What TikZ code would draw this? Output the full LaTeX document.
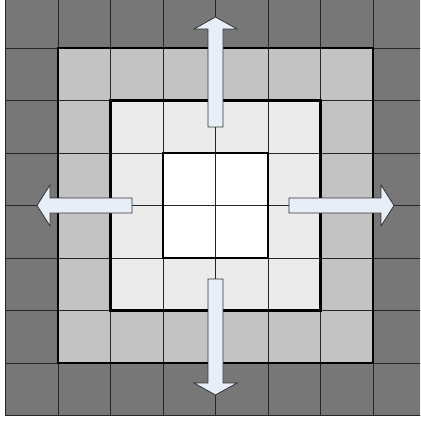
\documentclass[tikz,border=0pt]{standalone}
\usetikzlibrary{calc}
\definecolor{ring0}{HTML}{777777}
\definecolor{ring1}{HTML}{C3C3C3}
\definecolor{ring2}{HTML}{EBEBEB}
\definecolor{ring3}{HTML}{FFFFFF}
\definecolor{arrowfill}{HTML}{E8EEF8}
\tikzset{
  gridline/.style={line width=0.8pt, draw=black!85},
  thickline/.style={line width=2.6pt, draw=black},
  bigarrow/.style={fill=arrowfill, draw=black!80, line width=0.8pt, line join=miter}
}
\begin{document}
\begin{tikzpicture}[x=1pt,y=-1pt]
\useasboundingbox (0,0) rectangle (420,422);
\fill[white] (0,0) rectangle (420,422);
\begin{scope}
\clip (0,0) rectangle (420,422);
\def\s{52.5}
\def\xo{5.5}
\def\yo{-4.5}
\foreach \i in {0,...,7}{
  \foreach \j in {0,...,7}{
    \pgfmathtruncatemacro{\a}{min(\i,7-\i)}
    \pgfmathtruncatemacro{\b}{min(\j,7-\j)}
    \pgfmathtruncatemacro{\r}{min(\a,\b)}
    \fill[ring\r] ({\xo+\i*\s},{\yo+\j*\s}) rectangle ++(\s,\s);
  }
}
\foreach \k in {0,...,8}{
  \draw[gridline] ({\xo+\k*\s},\yo) -- ({\xo+\k*\s},{\yo+8*\s});
  \draw[gridline] (\xo,{\yo+\k*\s}) -- ({\xo+8*\s},{\yo+\k*\s});
}
\draw[thickline] ({\xo+1*\s},{\yo+1*\s}) rectangle ({\xo+7*\s},{\yo+7*\s});
\draw[thickline] ({\xo+2*\s},{\yo+2*\s}) rectangle ({\xo+6*\s},{\yo+6*\s});
\draw[thickline] ({\xo+3*\s},{\yo+3*\s}) rectangle ({\xo+5*\s},{\yo+5*\s});
\end{scope}
% arrows
\def\cx{215.5}
\def\cy{205.5}
% up
\draw[bigarrow] (208,127) -- (208,29) -- (194,29) -- (\cx,17) -- (237,29) -- (223,29) -- (223,127) -- cycle;
% down
\draw[bigarrow] (208,279) -- (208,383) -- (194,383) -- (\cx,395) -- (237,383) -- (223,383) -- (223,279) -- cycle;
% left
\draw[bigarrow] (132,198) -- (50,198) -- (50,185) -- (37,\cy) -- (50,226) -- (50,213) -- (132,213) -- cycle;
% right
\draw[bigarrow] (289,198) -- (381,198) -- (381,185) -- (394,\cy) -- (381,226) -- (381,213) -- (289,213) -- cycle;
\end{tikzpicture}
\end{document}
